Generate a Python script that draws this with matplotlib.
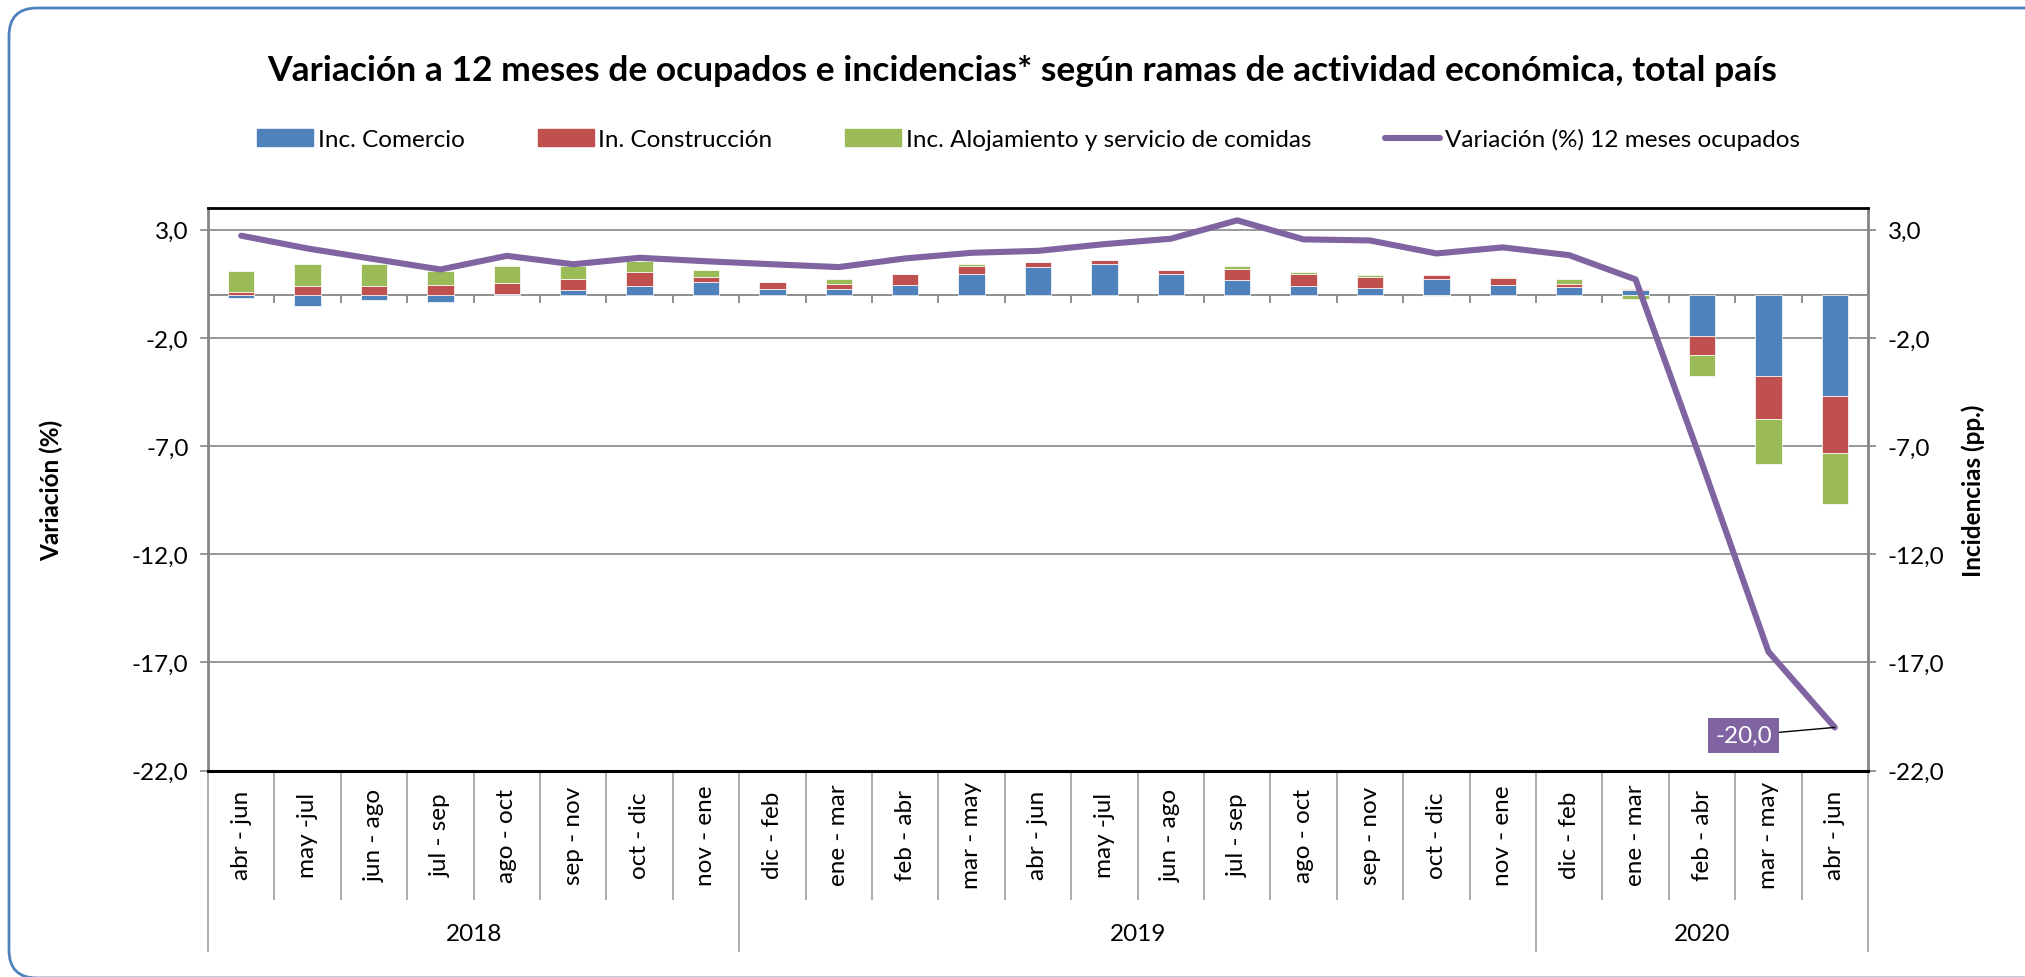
import matplotlib
matplotlib.use('Agg')  # Use non-interactive backend
import matplotlib.pyplot as plt
import matplotlib.transforms as mtransforms
from matplotlib.patches import FancyBboxPatch, Patch
from matplotlib.lines import Line2D
import numpy as np

plt.rcParams['font.family'] = ['Lato', 'DejaVu Sans']

# Data
periods = ['abr - jun', 'may -jul', 'jun - ago', 'jul - sep', 'ago - oct', 'sep - nov',
           'oct - dic', 'nov - ene',
           'dic - feb', 'ene - mar', 'feb - abr', 'mar - may', 'abr - jun', 'may -jul',
           'jun - ago', 'jul - sep', 'ago - oct', 'sep - nov', 'oct - dic', 'nov - ene',
           'dic - feb', 'ene - mar', 'feb - abr', 'mar - may', 'abr - jun']
years = ['2018', '2019', '2020']
year_counts = [8, 12, 5]

inc_comercio = [-0.17, -0.52, -0.23, -0.34, 0.03, 0.19, 0.40, 0.59,
                0.25, 0.25, 0.42, 0.93, 1.27, 1.42, 0.94, 0.68, 0.40, 0.31, 0.71, 0.43,
                0.35, 0.20, -1.91, -3.77, -4.69]
inc_construccion = [0.14, 0.39, 0.39, 0.42, 0.51, 0.52, 0.66, 0.20,
                    0.35, 0.23, 0.51, 0.40, 0.25, 0.19, 0.19, 0.52, 0.57, 0.48, 0.20, 0.35,
                    0.15, 0.08, -0.88, -1.98, -2.62]
inc_alojamiento = [0.93, 1.00, 1.00, 0.65, 0.80, 0.63, 0.51, 0.35,
                   0.00, 0.22, 0.03, 0.06, 0.00, 0.00, 0.00, 0.11, 0.09, 0.11, -0.06, 0.03,
                   0.22, -0.22, -0.96, -2.08, -2.39]
variacion = [2.72, 2.13, 1.64, 1.16, 1.79, 1.40, 1.70, 1.54,
             1.40, 1.27, 1.67, 1.93, 2.02, 2.33, 2.58, 3.43, 2.55, 2.50, 1.90, 2.18,
             1.82, 0.70, -7.8, -16.5, -20.0]

series_labels = ['Inc. Comercio', 'In. Construcción', 'Inc. Alojamiento y servicio de comidas']
line_label = 'Variación (%) 12 meses ocupados'
yticks = [-22, -17, -12, -7, -2, 3]

blue, red, green, purple = '#4F81BD', '#C0504D', '#9BBB59', '#8064A2'
grey = '#868686'
fs = 17.5

fig = plt.figure(figsize=(20.25, 9.78), dpi=100)
ax = fig.add_axes([208 / 2025, 1 - 771.7 / 978, 1660 / 2025, 562.7 / 978])
ax2 = ax.twinx()
x = np.arange(len(periods))

# Stacked bars (positives and negatives stacked separately)
pos_base = np.zeros(len(x))
neg_base = np.zeros(len(x))
for vals, color in zip([inc_comercio, inc_construccion, inc_alojamiento], [blue, red, green]):
    vals = np.array(vals)
    bottom = np.where(vals >= 0, pos_base, neg_base)
    ax2.bar(x, vals, 0.4, bottom=bottom, color=color, edgecolor='white', linewidth=0.5, zorder=2)
    pos_base += np.clip(vals, 0, None)
    neg_base += np.clip(vals, None, 0)

# Line on top
ax.set_zorder(ax2.get_zorder() + 1)
ax.patch.set_visible(False)
ax.plot(x, variacion, color=purple, linewidth=4.4, solid_capstyle='round', solid_joinstyle='round')

for a in (ax, ax2):
    a.set_ylim(-22, 4)
    a.set_xlim(-0.5, len(x) - 0.5)
    a.set_yticks(yticks)
    a.set_yticklabels([f'{v:.1f}'.replace('.', ',') for v in yticks], fontsize=fs)
    a.set_xticks([])
    a.tick_params(axis='y', length=6, width=1.2, color=grey, pad=8)

# Gridlines and category axis at zero
for v in yticks:
    ax2.axhline(v, color=grey, linewidth=1.2, zorder=0.5)
ax2.axhline(0, color=grey, linewidth=1.3, zorder=0.6)
ax2.vlines(np.arange(len(x) - 1) + 0.5, -0.4, 0, color=grey, linewidth=1.3, zorder=0.6)

# Spines
ax.spines['right'].set_visible(False)
ax.spines['left'].set_color(grey)
ax.spines['left'].set_linewidth(2)
ax.spines['top'].set_color('black')
ax.spines['top'].set_linewidth(2)
ax.spines['bottom'].set_color('black')
ax.spines['bottom'].set_linewidth(2.2)
for s in ['left', 'top', 'bottom']:
    ax2.spines[s].set_visible(False)
ax2.spines['right'].set_color(grey)
ax2.spines['right'].set_linewidth(2)

# Multi-level category axis
trans = mtransforms.blended_transform_factory(ax.transData, ax.transAxes)
for i, p in enumerate(periods):
    ax.text(i, -0.1134, p, rotation=90, ha='center', va='center', transform=trans, fontsize=fs)
year_edges = np.concatenate([[0], np.cumsum(year_counts)]) - 0.5
for b in np.arange(len(x) + 1) - 0.5:
    low = -0.320 if b in year_edges else -0.228
    ax.plot([b, b], [0, low], color='#A6A6A6', linewidth=1.3, transform=trans, clip_on=False)
for yr, start, cnt in zip(years, year_edges[:-1], year_counts):
    ax.text(start + cnt / 2, -0.290, yr, ha='center', va='center', transform=trans, fontsize=fs)

# Axis titles
ax.set_ylabel('Variación (%)', fontsize=fs, fontweight='bold')
ax.yaxis.set_label_coords(-0.0875, 0.5)
ax2.set_ylabel('Incidencias (pp.)', fontsize=fs, fontweight='bold', rotation=90)
ax2.yaxis.set_label_coords(1.056, 0.5)

# Data label for last point
ax.annotate(f'{variacion[-1]:.1f}'.replace('.', ','), xy=(x[-1], variacion[-1]),
            xytext=(-91, -8), textcoords='offset pixels', ha='center', va='center',
            color='white', fontsize=fs,
            bbox=dict(boxstyle='square,pad=0.3', fc=purple, ec='none'),
            arrowprops=dict(arrowstyle='-', color='black', lw=1, shrinkA=0, shrinkB=0))

# Title and legend
fig.text(0.505, 1 - 71 / 978, 'Variación a 12 meses de ocupados e incidencias* según ramas de actividad económica, total país',
         ha='center', va='center', fontsize=25.5, fontweight='bold')
handles = [Patch(color=blue), Patch(color=red), Patch(color=green),
           Line2D([], [], color=purple, linewidth=4.4, solid_capstyle='round')]
fig.legend(handles, series_labels + [line_label], loc='center', bbox_to_anchor=(0.508, 1 - 140 / 978),
           ncol=4, frameon=False, fontsize=fs, handlelength=2.3, handleheight=0.7,
           handletextpad=0.2, columnspacing=3.0)

# Rounded outer frame
fig.add_artist(FancyBboxPatch((9, -1), 2045, 970, boxstyle='round,pad=0,rounding_size=28',
                              transform=None, fill=False, edgecolor='#4F81BD', linewidth=2))

plt.savefig('out.png', dpi=100)
print("Chart saved to out.png")
